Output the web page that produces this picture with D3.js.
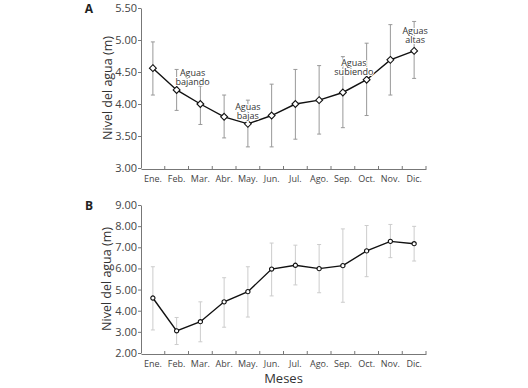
<!DOCTYPE html>
<html>
<head>
<meta charset="utf-8">
<script src="https://cdn.jsdelivr.net/npm/d3@7"></script>
<style>
  body { margin: 0; background: #fff; }
  svg { display: block; font-family: "Open Sans", sans-serif; }
</style>
</head>
<body>
<div class="main"></div>
<script>
// Dimensions
const width = 528;
const height = 388;

const meses = ['Ene.', 'Feb.', 'Mar.', 'Abr.', 'May.', 'Jun.', 'Jul.', 'Ago.', 'Sep.', 'Oct.', 'Nov.', 'Dic.'];

// Panel A
const mediaA = [4.56, 4.22, 4.00, 3.80, 3.69, 3.82, 4.00, 4.06, 4.18, 4.38, 4.69, 4.83];
const altoA  = [4.97, 4.54, 4.28, 4.14, 4.06, 4.31, 4.54, 4.60, 4.74, 4.95, 5.24, 5.29];
const bajoA  = [4.14, 3.90, 3.68, 3.47, 3.33, 3.33, 3.45, 3.53, 3.63, 3.82, 4.14, 4.40];
const ticksA = [3.00, 3.50, 4.00, 4.50, 5.00, 5.50];
const notasA = [
  { mes: 'Feb.', dx: 16, y: 4.44, lineas: ['Aguas', 'bajando'] },
  { mes: 'May.', dx: 0, y: 3.91, lineas: ['Aguas', 'bajas'] },
  { mes: 'Sep.', dx: 11, y: 4.60, lineas: ['Aguas', 'subiendo'] },
  { mes: 'Dic.', dx: 1, y: 5.10, lineas: ['Aguas', 'altas'] }
];

// Panel B
const mediaB = [4.60, 3.05, 3.48, 4.42, 4.90, 5.97, 6.15, 5.99, 6.13, 6.83, 7.28, 7.17];
const altoB  = [6.08, 3.68, 4.42, 5.56, 6.08, 7.20, 7.10, 7.13, 7.87, 8.03, 8.08, 7.99];
const bajoB  = [3.09, 2.40, 2.53, 3.22, 3.70, 4.70, 5.22, 4.85, 4.40, 5.61, 6.51, 6.35];
const ticksB = [2.00, 3.00, 4.00, 5.00, 6.00, 7.00, 8.00, 9.00];

const svg = d3.select('.main')
  .append('svg')
  .attr('width', width)
  .attr('height', height);

const x = d3.scaleBand()
  .domain(meses)
  .range([141, 426]);

function panel(cfg) {
  const y = d3.scaleLinear()
    .domain(cfg.dominio)
    .range(cfg.rango);

  const g = svg.append('g');
  const yBase = cfg.rango[0] + 1;

  // error bars
  const barras = g.append('g')
    .attr('stroke', cfg.colorBarra)
    .attr('stroke-width', 1);
  meses.forEach((m, i) => {
    const cx = x(m) + x.bandwidth() / 2;
    barras.append('line')
      .attr('x1', cx).attr('x2', cx)
      .attr('y1', y(cfg.alto[i])).attr('y2', y(cfg.bajo[i]));
    [cfg.alto[i], cfg.bajo[i]].forEach(v => {
      barras.append('line')
        .attr('x1', cx - 2).attr('x2', cx + 2)
        .attr('y1', y(v)).attr('y2', y(v));
    });
  });

  // eje Y
  g.append('g')
    .attr('transform', `translate(${x.range()[0]},0)`)
    .call(d3.axisLeft(y).tickValues(cfg.ticks).tickFormat(d3.format('.2f')).tickSize(3).tickSizeOuter(0))
    .call(a => a.select('.domain').attr('stroke', '#777'))
    .call(a => a.selectAll('.tick line').attr('stroke', '#777'))
    .call(a => a.selectAll('.tick text')
      .attr('fill', '#444')
      .attr('font-size', 11)
      .attr('x', -4)
      .style('font-family', '"Open Sans", sans-serif'));

  // eje X
  const ejeX = g.append('g')
    .attr('transform', `translate(0,${yBase})`)
    .call(d3.axisBottom(x).tickSize(0).tickSizeOuter(0))
    .call(a => a.select('.domain').attr('stroke', '#777'))
    .call(a => a.selectAll('.tick text')
      .attr('fill', '#444')
      .attr('font-size', 9)
      .attr('dy', '0.9em')
      .attr('y', 5)
      .style('font-family', '"Open Sans", sans-serif'));
  ejeX.selectAll('line.sep')
    .data(meses.slice(1).concat(['fin']))
    .enter()
    .append('line')
    .attr('class', 'sep')
    .attr('x1', d => d === 'fin' ? x.range()[1] : x(d))
    .attr('x2', d => d === 'fin' ? x.range()[1] : x(d))
    .attr('y1', 0).attr('y2', -3)
    .attr('stroke', '#777');

  // línea
  const linea = d3.line()
    .x((d, i) => x(meses[i]) + x.bandwidth() / 2)
    .y(d => y(d));
  g.append('path')
    .datum(cfg.media)
    .attr('d', linea)
    .attr('fill', 'none')
    .attr('stroke', '#111')
    .attr('stroke-width', 1.4);

  // marcadores
  const simbolo = d3.symbol().type(cfg.simbolo).size(cfg.tamano);
  g.append('g')
    .selectAll('path')
    .data(cfg.media)
    .enter()
    .append('path')
    .attr('d', simbolo)
    .attr('transform', (d, i) => `translate(${x(meses[i]) + x.bandwidth() / 2},${y(d)})`)
    .attr('fill', '#fff')
    .attr('stroke', '#111')
    .attr('stroke-width', 1.1);

  // título eje Y
  const yMid = (cfg.rango[0] + cfg.rango[1]) / 2;
  g.append('text')
    .attr('transform', `translate(${cfg.tituloX},${yMid}) rotate(-90)`)
    .attr('text-anchor', 'middle')
    .attr('font-size', 12.5)
    .attr('fill', '#333')
    .text('Nivel del agua (m)');

  // letra del panel
  g.append('text')
    .attr('x', 89)
    .attr('y', cfg.rango[1] + 5)
    .attr('text-anchor', 'middle')
    .attr('font-size', 12)
    .attr('font-weight', 'bold')
    .attr('fill', '#222')
    .text(cfg.letra);

  return { g, y };
}

const A = panel({
  dominio: [3, 5.5], rango: [168, 8], ticks: ticksA,
  media: mediaA, alto: altoA, bajo: bajoA,
  colorBarra: '#999', simbolo: d3.symbolDiamond2, tamano: 30,
  tituloX: 112, letra: 'A'
});

// notas del panel A
notasA.forEach(n => {
  n.lineas.forEach((l, k) => {
    A.g.append('text')
      .attr('text-anchor', 'middle')
      .attr('font-size', 9)
      .attr('fill', '#333')
      .attr('paint-order', 'stroke')
      .attr('stroke', '#fff')
      .attr('stroke-width', 2)
      .attr('x', x(n.mes) + x.bandwidth() / 2 + n.dx)
      .attr('y', A.y(n.y) + k * 9.5)
      .text(l);
  });
});

panel({
  dominio: [2, 9], rango: [353, 205], ticks: ticksB,
  media: mediaB, alto: altoB, bajo: bajoB,
  colorBarra: '#ccc', simbolo: d3.symbolCircle, tamano: 14,
  tituloX: 111, letra: 'B'
});

// título eje X
svg.append('text')
  .attr('x', (x.range()[0] + x.range()[1]) / 2)
  .attr('y', 383)
  .attr('text-anchor', 'middle')
  .attr('font-size', 13)
  .attr('fill', '#333')
  .text('Meses');
</script>
</body>
</html>
